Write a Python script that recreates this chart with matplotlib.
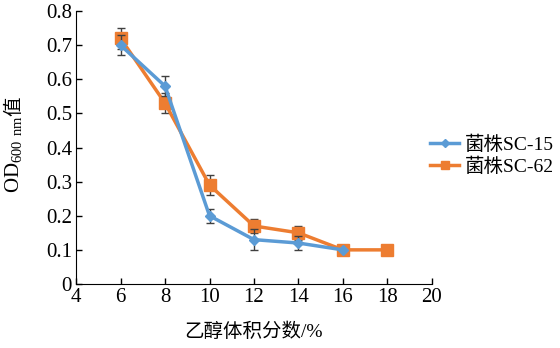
import matplotlib
matplotlib.use("Agg")
import matplotlib.pyplot as plt
from matplotlib.lines import Line2D

plt.rcParams['font.family'] = ['Liberation Serif', 'Noto Sans CJK SC']
plt.rcParams['mathtext.fontset'] = 'custom'
plt.rcParams['mathtext.rm'] = 'Liberation Serif'

x15 = [6, 8, 10, 12, 14, 16]
y15 = [0.70, 0.58, 0.20, 0.13, 0.12, 0.10]
e15 = [0.03, 0.03, 0.02, 0.03, 0.02, 0.0]

x62 = [6, 8, 10, 12, 14, 16, 18]
y62 = [0.72, 0.53, 0.29, 0.17, 0.15, 0.10, 0.10]
e62 = [0.03, 0.03, 0.03, 0.02, 0.02, 0.0, 0.0]

labels = ['菌株SC-15', '菌株SC-62']
c15, c62 = '#5B9BD5', '#ED7D31'

fig = plt.figure(figsize=(5.6, 3.48), dpi=100)
ax = fig.add_axes([0.136, 0.184, 0.635, 0.784])

ax.errorbar(x15, y15, yerr=e15, color=c15, marker='D', markersize=5,
            linewidth=2.5, ecolor='#404040', elinewidth=1, capsize=3, zorder=3)
ax.errorbar(x62, y62, yerr=e62, color=c62, marker='s', markersize=8,
            linewidth=2.5, ecolor='#404040', elinewidth=1, capsize=3, zorder=2)

ax.set_xlim(4, 20)
ax.set_ylim(0, 0.8)
ax.set_xticks(range(4, 21, 2))
ax.set_yticks([i / 10 for i in range(9)])
ax.set_yticklabels(['0'] + [f'{i / 10:.1f}' for i in range(1, 9)])
ax.tick_params(direction='in', labelsize=15, length=4, width=1, pad=3)
for s in ['top', 'right']:
    ax.spines[s].set_visible(False)

ax.set_xlabel('乙醇体积分数/%', fontsize=14, labelpad=11)

# y label: mathtext part plus the CJK character drawn separately
od = fig.text(0.025, 1 - 193 / 348, 'OD$_{600\\ \\mathrm{nm}}$', rotation=90,
              ha='center', va='bottom', fontsize=15)
fig.canvas.draw()
bb = od.get_window_extent().transformed(fig.transFigure.inverted())
fig.text(0.025, bb.y1, '值', rotation=90, ha='center', va='bottom', fontsize=14)

handles = [Line2D([], [], color=c15, marker='D', markersize=4, linewidth=2.5),
           Line2D([], [], color=c62, marker='s', markersize=6, linewidth=2.5)]
ax.legend(handles, labels, loc='center left', bbox_to_anchor=(0.995, 0.47),
          frameon=False, fontsize=14, handlelength=1.5, handletextpad=0.3,
          labelspacing=0.15, borderpad=0, borderaxespad=0)

fig.savefig('out.png', dpi=100)
